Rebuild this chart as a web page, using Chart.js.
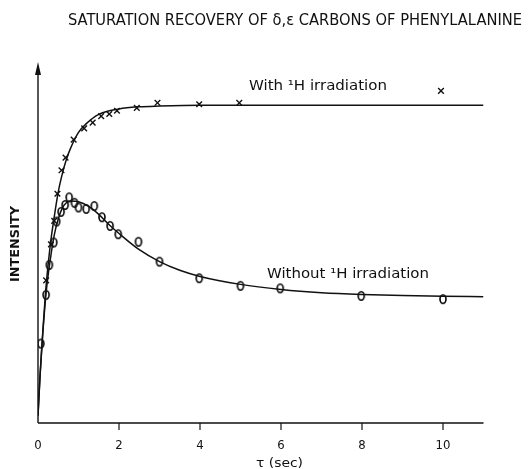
<!DOCTYPE html>
<html>
<head>
<meta charset="utf-8">
<script src="https://cdn.jsdelivr.net/npm/chart.js@4.4.1/dist/chart.umd.min.js"></script>
<style>
  html, body { margin: 0; padding: 0; background: #fff; }
  #wrap { width: 531px; height: 469px; }
</style>
</head>
<body>
<div id="wrap"><canvas id="chart" width="531" height="469"></canvas></div>
<script>
// values (tau in sec, intensity in arbitrary units 0-100)
const withTau = [0.2, 0.32, 0.4, 0.48, 0.58, 0.68, 0.88, 1.14, 1.35, 1.56, 1.76, 1.95, 2.44, 2.95, 3.98, 4.97, 9.95];
const withI = [39.5, 49.5, 56, 63.5, 70, 73.5, 78.5, 81.6, 83.2, 85, 85.6, 86.5, 87.3, 88.7, 88.3, 88.7, 92];

const withoutTau = [0.07, 0.2, 0.28, 0.39, 0.46, 0.57, 0.67, 0.77, 0.9, 1.0, 1.19, 1.39, 1.58, 1.78, 1.98, 2.48, 3.0, 3.98, 5.0, 5.98, 7.98, 10.0];
const withoutI = [22, 35.5, 43.8, 50, 55.8, 58.5, 60.4, 62.5, 61, 59.7, 59.3, 60.1, 57, 54.6, 52.3, 50.2, 44.7, 40.1, 38, 37.3, 35.2, 34.3];

// fitted curves
const withFitTau = [0, 0.05, 0.1, 0.2, 0.3, 0.4, 0.5, 0.6, 0.7, 0.8, 1.0, 1.2, 1.5, 2.0, 2.5, 3.0, 4.0, 11];
const withFitI = [2, 13, 22, 38, 49, 57, 64, 69, 73, 76, 80.5, 83, 85.5, 87, 87.6, 87.8, 88, 88];

const withoutFitTau = [0, 0.05, 0.1, 0.2, 0.3, 0.4, 0.5, 0.6, 0.7, 0.8, 1.0, 1.25, 1.5, 1.75, 2.0, 2.5, 3.0, 3.5, 4.0, 5.0, 6.0, 7.0, 8.0, 9.0, 10.0, 11];
const withoutFitI = [2, 13, 22, 36, 45, 52, 56.5, 59.5, 61, 61.5, 61.3, 60, 57.8, 55, 52.5, 48, 44.7, 42.3, 40.6, 38.4, 37, 36.1, 35.6, 35.3, 35.1, 35];

const xTicks = [0, 2, 4, 6, 8, 10];

const titleText = 'SATURATION RECOVERY OF \u03b4,\u03b5 CARBONS OF PHENYLALANINE';
const withLabel = 'With \u00b9H irradiation';
const withoutLabel = 'Without \u00b9H irradiation';
const yTitle = 'INTENSITY';
const xTitle = '\u03c4 (sec)';

const INK = '#111';
const FONT = '"DejaVu Sans Condensed", "Liberation Sans Narrow", "DejaVu Sans", sans-serif';

function pairs(xs, ys) {
  return xs.map((x, i) => ({ x, y: ys[i] }));
}

// small upright oval, like the hand-drawn "0" markers
function makeOval() {
  const c = document.createElement('canvas');
  c.width = 10;
  c.height = 12;
  const g = c.getContext('2d');
  g.strokeStyle = '#000';
  g.lineWidth = 1.6;
  g.beginPath();
  g.ellipse(5, 6, 3, 4.2, 0, 0, Math.PI * 2);
  g.stroke();
  return c;
}

// draw text squeezed/stretched to span x0..x1
function fitText(ctx, text, x0, x1, baseline, size, weight) {
  ctx.save();
  ctx.font = (weight || 'normal') + ' ' + size + 'px ' + FONT;
  ctx.textAlign = 'left';
  ctx.textBaseline = 'alphabetic';
  const w = ctx.measureText(text).width;
  ctx.translate(x0, baseline);
  ctx.scale((x1 - x0) / w, 1);
  ctx.fillText(text, 0, 0);
  ctx.restore();
}

const decorPlugin = {
  id: 'decor',
  afterDraw(chart) {
    const ctx = chart.ctx;
    const xs = chart.scales.x;
    const ys = chart.scales.y;
    const x0 = xs.getPixelForValue(0);
    const y0 = ys.getPixelForValue(0);
    const yTop = ys.getPixelForValue(100);
    const xEnd = xs.getPixelForValue(11);

    ctx.save();
    ctx.strokeStyle = INK;
    ctx.fillStyle = INK;
    ctx.lineWidth = 1.4;

    // axes
    ctx.beginPath();
    ctx.moveTo(x0, y0);
    ctx.lineTo(xEnd, y0);
    ctx.moveTo(x0, y0);
    ctx.lineTo(x0, yTop + 8);
    ctx.stroke();

    // arrow head on the intensity axis
    ctx.beginPath();
    ctx.moveTo(x0, yTop);
    ctx.lineTo(x0 - 3, yTop + 13);
    ctx.lineTo(x0 + 3, yTop + 13);
    ctx.closePath();
    ctx.fill();

    // tick marks and labels
    ctx.lineWidth = 1.2;
    ctx.font = '13px ' + FONT;
    ctx.textAlign = 'center';
    ctx.textBaseline = 'alphabetic';
    xTicks.forEach((t) => {
      const px = xs.getPixelForValue(t);
      if (t !== 0) {
        ctx.beginPath();
        ctx.moveTo(px, y0);
        ctx.lineTo(px, y0 + 7);
        ctx.stroke();
      }
      ctx.fillText(String(t), px, y0 + 26);
    });
    ctx.restore();

    ctx.fillStyle = INK;
    fitText(ctx, titleText, 68, 522, 25, 15);
    fitText(ctx, withLabel, 249, 387, 90, 14);
    fitText(ctx, withoutLabel, 267, 429, 278, 14);
    fitText(ctx, xTitle, 256, 303, 467, 13);

    // vertical axis title
    ctx.save();
    ctx.translate(19, 282);
    ctx.rotate(-Math.PI / 2);
    ctx.fillStyle = INK;
    fitText(ctx, yTitle, 0, 76, 0, 12, 'bold');
    ctx.restore();
  },
};

const oval = makeOval();

new Chart(document.getElementById('chart'), {
  type: 'scatter',
  data: {
    datasets: [
      {
        label: 'with fit',
        data: pairs(withFitTau, withFitI),
        showLine: true,
        borderColor: INK,
        borderWidth: 1.5,
        pointRadius: 0,
        cubicInterpolationMode: 'monotone',
      },
      {
        label: 'without fit',
        data: pairs(withoutFitTau, withoutFitI),
        showLine: true,
        borderColor: INK,
        borderWidth: 1.5,
        pointRadius: 0,
        cubicInterpolationMode: 'monotone',
      },
      {
        label: 'With 1H irradiation',
        data: pairs(withTau, withI),
        pointStyle: 'crossRot',
        pointRadius: 4,
        borderColor: INK,
        borderWidth: 1.4,
      },
      {
        label: 'Without 1H irradiation',
        data: pairs(withoutTau, withoutI),
        pointStyle: oval,
        pointRadius: 4,
        borderColor: INK,
      },
    ],
  },
  options: {
    responsive: false,
    animation: false,
    layout: { padding: { left: 38, right: 47.5, top: 62, bottom: 46 } },
    scales: {
      x: { type: 'linear', min: 0, max: 11, display: false },
      y: { type: 'linear', min: 0, max: 100, display: false },
    },
    plugins: {
      legend: { display: false },
      tooltip: { enabled: false },
    },
  },
  plugins: [decorPlugin],
});
</script>
</body>
</html>
